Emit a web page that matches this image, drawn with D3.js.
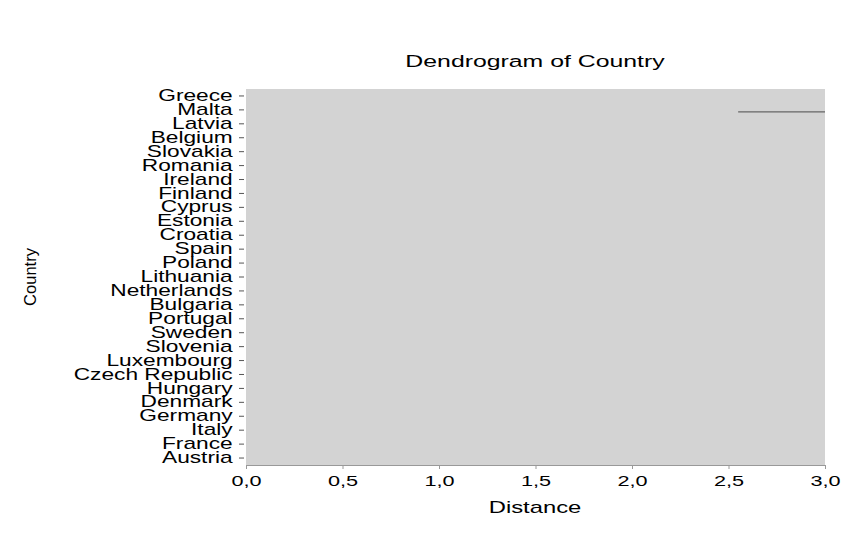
<!DOCTYPE html>
<html>
  <head>
    <meta charset="utf-8">
    <script src="https://d3js.org/d3.v7.min.js"></script>
    <title>Dendrogram of Country</title>
    <style>
      body { margin: 0; background: #fff; }
      text { font-family: "Liberation Sans", Arial, sans-serif; fill: #000; }
    </style>
  </head>
  <body>
    <svg id="chart" width="866" height="536"></svg>
    <script>
      // leaf order, top to bottom
      var countries = ["Greece", "Malta", "Latvia", "Belgium", "Slovakia", "Romania", "Ireland",
        "Finland", "Cyprus", "Estonia", "Croatia", "Spain", "Poland", "Lithuania", "Netherlands",
        "Bulgaria", "Portugal", "Sweden", "Slovenia", "Luxembourg", "Czech Republic", "Hungary",
        "Denmark", "Germany", "Italy", "France", "Austria"];
      // the only branch that falls inside the visible distance range
      var branchCountry = ["Malta"];
      var branchFrom = [2.55];
      var branchTo = [3.4];
      var distanceTicks = [0, 0.5, 1, 1.5, 2, 2.5, 3];

      var sx = 1.42; // wide lettering of the original

      var svg = d3.select("#chart"),
          margin = { top: 89, right: 41, bottom: 71, left: 246 },
          width = +svg.attr("width") - margin.left - margin.right,
          height = +svg.attr("height") - margin.top - margin.bottom;

      var x = d3.scaleLinear().domain([0, 3]).range([0, width]);
      var y = d3.scaleBand().domain(countries).range([0, height]).paddingOuter(0).paddingInner(0);

      var g = svg.append("g")
          .attr("transform", "translate(" + margin.left + "," + margin.top + ")");

      g.append("rect")
          .attr("width", width)
          .attr("height", height)
          .attr("fill", "#d3d3d3");

      svg.append("clipPath").attr("id", "plotclip")
        .append("rect").attr("width", width).attr("height", height);

      var branches = branchCountry.map(function (c, i) {
        return { country: c, from: branchFrom[i], to: branchTo[i] };
      });

      g.append("g").attr("clip-path", "url(#plotclip)")
        .selectAll("line")
        .data(branches)
        .enter().append("line")
          .attr("x1", function (d) { return x(d.from); })
          .attr("x2", function (d) { return x(d.to); })
          .attr("y1", function (d) { return y(d.country) + y.bandwidth() / 2 + 2; })
          .attr("y2", function (d) { return y(d.country) + y.bandwidth() / 2 + 2; })
          .attr("stroke", "#666")
          .attr("stroke-width", 1.3);

      // x axis
      var xAxis = g.append("g")
          .attr("transform", "translate(0," + height + ")")
          .call(d3.axisBottom(x).tickValues(distanceTicks).tickSize(4).tickSizeOuter(0).tickPadding(6)
            .tickFormat(function (d) { return d3.format(".1f")(d).replace(".", ","); }));
      xAxis.select(".domain").attr("stroke", "#999");
      xAxis.selectAll(".tick line").attr("stroke", "#999");
      xAxis.selectAll(".tick text")
          .style("font-size", "15.5px")
          .attr("transform", "scale(1.4,1)");
      xAxis.attr("font-family", null).attr("font-size", null);

      // y axis
      var yAxis = g.append("g")
          .attr("transform", "translate(-2,0)")
          .call(d3.axisLeft(y).tickSize(5).tickPadding(3));
      yAxis.select(".domain").remove();
      yAxis.selectAll(".tick line").attr("stroke", "#555");
      yAxis.selectAll(".tick text")
          .style("font-size", "16px")
          .attr("transform", "scale(" + sx + ",1)");
      yAxis.attr("font-family", null).attr("font-size", null);

      // titles
      svg.append("text")
          .attr("transform", "translate(535,67) scale(1.46,1)")
          .attr("text-anchor", "middle")
          .style("font-size", "17px")
          .text("Dendrogram of Country");

      svg.append("text")
          .attr("transform", "translate(535,513) scale(1.4,1)")
          .attr("text-anchor", "middle")
          .style("font-size", "17px")
          .text("Distance");

      svg.append("text")
          .attr("transform", "translate(36,277) rotate(-90)")
          .attr("text-anchor", "middle")
          .style("font-size", "16.5px")
          .text("Country");
    </script>
  </body>
</html>
